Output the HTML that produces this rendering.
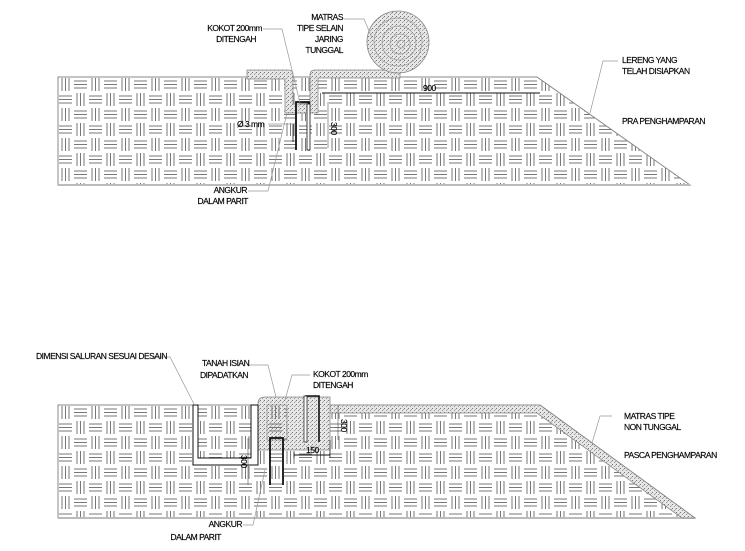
<!DOCTYPE html>
<html><head><style>
html,body{margin:0;padding:0;background:#fff}
svg{display:block}
text{font-family:"Liberation Sans",sans-serif;font-size:8.5px;fill:#000;stroke:#000;stroke-width:0.15;letter-spacing:-0.5px}
</style></head><body>
<svg width="745" height="551" viewBox="0 0 745 551" xmlns="http://www.w3.org/2000/svg">
<defs>
<pattern id="bw" x="58" y="77" width="30" height="30" patternUnits="userSpaceOnUse">
<g stroke="#777" stroke-width="1" fill="none">
<path d="M4 1V14M7.5 1V14M11 1V14"/>
<path d="M16 4H29M16 7.5H29M16 11H29"/>
<path d="M1 19H14M1 22.5H14M1 26H14"/>
<path d="M19 16V29M22.5 16V29M26 16V29"/>
</g>
</pattern>
<pattern id="bw2" x="58" y="405" width="30" height="30" patternUnits="userSpaceOnUse">
<g stroke="#777" stroke-width="1" fill="none">
<path d="M4 1V14M7.5 1V14M11 1V14"/>
<path d="M16 4H29M16 7.5H29M16 11H29"/>
<path d="M1 19H14M1 22.5H14M1 26H14"/>
<path d="M19 16V29M22.5 16V29M26 16V29"/>
</g>
</pattern>
<pattern id="dots" width="4" height="4" patternUnits="userSpaceOnUse">
<rect width="4" height="4" fill="#e6e6e6"/>
<rect x="0" y="0" width="1" height="1" fill="#777"/>
<rect x="2" y="2" width="1" height="1" fill="#999"/>
<rect x="3" y="1" width="1" height="1" fill="#aaa"/>
</pattern>
</defs>

<!-- TOP DIAGRAM -->
<path d="M58 77H537L690 185H58Z" fill="url(#bw)" stroke="#888" stroke-width="1"/>
<line x1="58" y1="185" x2="690" y2="185" stroke="#bbb" stroke-width="2"/>
<path d="M247 70H288Q293 70 293 75V104H310V75Q310 70 315 70H400V78H318V113H285V79H247Z" fill="url(#dots)" stroke="#888" stroke-width="0.8"/>
<circle cx="398" cy="42" r="31" fill="url(#dots)" stroke="#888" stroke-width="0.8"/>
<g fill="none" stroke="#999" stroke-width="0.7">
<circle cx="398" cy="42" r="24"/><circle cx="399" cy="43" r="17"/><circle cx="400" cy="44" r="10"/><circle cx="401" cy="44" r="4"/>
</g>
<path d="M296 150V102H309V150" fill="none" stroke="#111" stroke-width="1.8"/>
<rect x="307" y="104" width="3" height="46" fill="#fff" stroke="#111" stroke-width="0.8"/>
<path d="M293 124V142" stroke="#111" stroke-width="0.8"/>
<line x1="322" y1="93" x2="540" y2="93" stroke="#111" stroke-width="1"/>
<text x="423" y="91">900</text>
<line x1="328" y1="102" x2="328" y2="148" stroke="#333" stroke-width="0.5"/>
<text x="0" y="0" transform="translate(331,122) rotate(90)">300</text>
<g fill="none" stroke="#999" stroke-width="0.7">
<path d="M263 29H282L300 103"/>
<path d="M344 19H364L372 38"/>
<path d="M268 124H293"/>
<path d="M248 191H268L287 113"/>
<path d="M618 61H603L590 113"/>
</g>
<text x="262" y="31" text-anchor="end">KOKOT 200mm</text>
<text x="256" y="42" text-anchor="end">DITENGAH</text>
<text x="343" y="20" text-anchor="end">MATRAS</text>
<text x="343" y="31" text-anchor="end">TIPE SELAIN</text>
<text x="343" y="42" text-anchor="end">JARING</text>
<text x="343" y="53" text-anchor="end">TUNGGAL</text>
<text x="237" y="127">Ø 3 mm</text>
<text x="247" y="193" text-anchor="end">ANGKUR</text>
<text x="248" y="204" text-anchor="end">DALAM PARIT</text>
<text x="622" y="63">LERENG YANG</text>
<text x="622" y="74">TELAH DISIAPKAN</text>
<text x="622" y="124">PRA PENGHAMPARAN</text>

<!-- BOTTOM DIAGRAM -->
<path d="M58 405H540L695 518H58Z" fill="url(#bw2)" stroke="#888" stroke-width="1"/>
<line x1="58" y1="518" x2="695" y2="518" stroke="#bbb" stroke-width="2"/>
<path d="M330 405H540L695 518H682L537 413H330Z" fill="url(#dots)" stroke="#888" stroke-width="0.8"/>
<path d="M265 397H330V450H258V404Q258 397 265 397Z" fill="url(#dots)" stroke="#888" stroke-width="0.8"/>
<rect x="267" y="405" width="20" height="35" fill="url(#bw2)" stroke="#888" stroke-width="0.6"/>
<path d="M193 405H198V458H251V405H258V465H193Z" fill="#fff" stroke="#111" stroke-width="1"/>
<path d="M270 485V438H283V485" fill="none" stroke="#111" stroke-width="1.8"/>
<path d="M306 440V396H319V442" fill="none" stroke="#111" stroke-width="1.6"/>
<rect x="304" y="396" width="3" height="46" fill="#fff" stroke="#111" stroke-width="0.7"/>
<path d="M294 455H330" stroke="#111" stroke-width="1"/>
<path d="M294 452V458M330 440V458" stroke="#111" stroke-width="0.7"/>
<text x="306" y="453">150</text>
<line x1="338" y1="405" x2="338" y2="440" stroke="#333" stroke-width="0.5"/>
<text transform="translate(341,419) rotate(90)">300</text>
<line x1="248" y1="438" x2="248" y2="485" stroke="#333" stroke-width="0.5"/>
<text transform="translate(241,455) rotate(90)">300</text>
<g fill="none" stroke="#999" stroke-width="0.7">
<path d="M152 357H170L194 404"/>
<path d="M248 365H268L276 397"/>
<path d="M310 375H292L285 400"/>
<path d="M243 525H253L265 470"/>
<path d="M612 416H600L592 443"/>
</g>
<text x="36" y="359">DIMENSI SALURAN SESUAI DESAIN</text>
<text x="202" y="366">TANAH ISIAN</text>
<text x="200" y="378">DIPADATKAN</text>
<text x="313" y="377">KOKOT 200mm</text>
<text x="313" y="388">DITENGAH</text>
<text x="242" y="527" text-anchor="end">ANGKUR</text>
<text x="221" y="540" text-anchor="end">DALAM PARIT</text>
<text x="624" y="419">MATRAS TIPE</text>
<text x="624" y="430">NON TUNGGAL</text>
<text x="624" y="458">PASCA PENGHAMPARAN</text>
</svg>
</body></html>
